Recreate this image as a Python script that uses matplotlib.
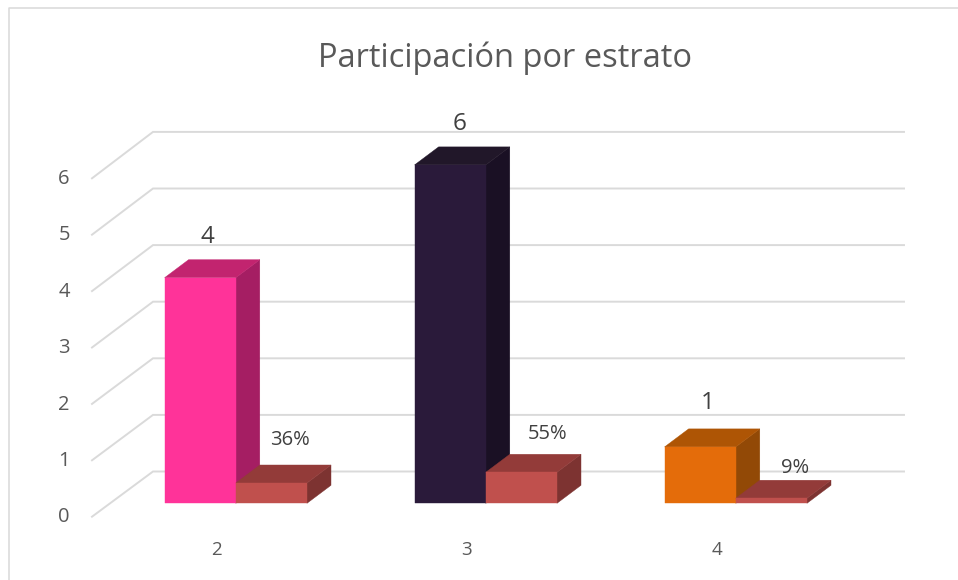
import matplotlib
matplotlib.use("Agg")
import matplotlib.pyplot as plt
from matplotlib.patches import Polygon, Rectangle

plt.rcParams['font.family'] = ['Open Sans', 'DejaVu Sans']

# --- data ---
title = "Participación por estrato"
categories = [2, 3, 4]
counts = [4, 6, 1]
shares = [0.36, 0.55, 0.09]
yticks = [0, 1, 2, 3, 4, 5, 6]

# --- styles ---
count_colors = [("#FF3399", "#A51E63", "#C2246F"),
                ("#2A1A3A", "#1A1024", "#211729"),
                ("#E46C0A", "#924906", "#AE5505")]
share_colors = ("#C0504D", "#7D3331", "#933B39")
GRID = "#DADADA"
W, H = 958, 580
X0, XSTEP = 235.8, 250.0     # pixel x of category 2, pixels per category
Y0, YSTEP = 503.3, 56.4      # pixel y of value 0 at the bar plane, pixels per unit
BAR_W = 71.2
DX, DY = 24.0, 18.0          # bar depth in pixels

fig = plt.figure(figsize=(W / 100, H / 100), dpi=100, facecolor="white")
ax = fig.add_axes([0, 0, 1, 1])
ax.set_xlim(categories[0] - X0 / XSTEP, categories[0] + (W - X0) / XSTEP)
ax.set_ylim(-(H - Y0) / YSTEP, Y0 / YSTEP)
ax.axis("off")

sx = 1 / XSTEP   # data units per pixel
sy = 1 / YSTEP


def px(x, y):
    """pixel position to data position"""
    return (categories[0] + (x - X0) * sx, (Y0 - y) * sy)


def box(c, v, side, colors):
    """3-D looking column: side = -1 left of the category position, +1 right"""
    x0 = c if side > 0 else c - BAR_W * sx
    x1 = x0 + BAR_W * sx
    dx, dy = DX * sx, DY * sy
    front, right, top = colors
    ax.add_patch(Polygon([(x1, 0), (x1 + dx, dy), (x1 + dx, v + dy), (x1, v)],
                         fc=right, ec=right, lw=0.3, zorder=3))
    ax.add_patch(Polygon([(x0, v), (x0 + dx, v + dy), (x1 + dx, v + dy), (x1, v)],
                         fc=top, ec=top, lw=0.3, zorder=3))
    ax.add_patch(Rectangle((x0, 0), x1 - x0, v, fc=front, ec=front, lw=0.3, zorder=3))


# chart border (runs off the right and bottom edges)
ax.plot(*zip(px(8.5, H + 2), px(8.5, 8.5), px(W + 2, 8.5)), color="#D9D9D9", lw=1.1, zorder=1)

# gridlines: floor/side diagonal + back wall
for v in yticks:
    f = px(92, 516.7 - 56.4 * v)
    b = px(153, 471.5 - 56.6 * v)
    e = px(904, 471.5 - 56.6 * v)
    ax.plot(*zip(f, b, e), color=GRID, lw=1.4, zorder=1, solid_joinstyle="miter")
    x, y = px(64, 517.5 - 56.4 * v)
    ax.text(x, y, str(v), ha="center", va="center", fontsize=14.5, color="#595959", zorder=5)

# bars (left to right so that nearer parts overlap properly)
for c, n, s, cols in zip(categories, counts, shares, count_colors):
    box(c, n, -1, cols)
    box(c, s, 1, share_colors)

# count and share labels
count_off = [(-28, 41), (-26, 41), (-28, 44)]
share_off = [(54, 43), (62, 38), (59, 30)]
for c, n, s, co, so in zip(categories, counts, shares, count_off, share_off):
    ax.annotate(str(n), (c, n), xytext=(co[0] * 0.72, co[1] * 0.72), textcoords="offset points",
                ha="center", va="center", fontsize=17.5, color="#404040", zorder=5)
    ax.annotate(f"{round(s * 100)}%", (c, s), xytext=(so[0] * 0.72, so[1] * 0.72), textcoords="offset points",
                ha="center", va="center", fontsize=14.5, color="#404040", zorder=5)

# category labels
for c in categories:
    x, _ = px(X0 + (c - categories[0]) * XSTEP - 19, 0)
    _, y = px(0, 550)
    ax.text(x, y, str(c), ha="center", va="center", fontsize=13.5, color="#595959", zorder=5)

tx, ty = px(505, 58)
ax.text(tx, ty, title, ha="center", va="center", fontsize=23.5, color="#595959", zorder=5)

fig.savefig("out.png", dpi=100, facecolor="white")
